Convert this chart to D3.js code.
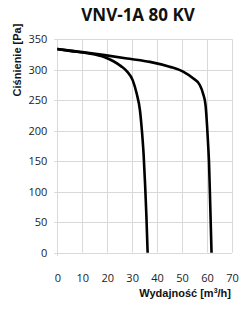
<!DOCTYPE html>
<html><head><meta charset="utf-8">
<script src="https://cdn.jsdelivr.net/npm/d3@7"></script>
<style>body{margin:0;background:#fff}svg{display:block}</style>
</head><body>
<script>
const title = "VNV-1A 80 KV";
const xLabel = "Wydajność [m";
const yLabel = "Ciśnienie [Pa]";
const xTicks = [0,10,20,30,40,50,60,70];
const yTicks = [0,50,100,150,200,250,300,350];
const innerX = [0, 5, 12.4, 19, 22.5, 25.5, 28, 30.2, 31.8, 33.1, 33.9, 34.6, 35.2, 35.7, 36.2];
const innerY = [334, 331, 327, 320.5, 314, 306, 297, 283, 261, 234, 200, 160, 110, 60, 0];
const outerX = [0, 10, 19, 29, 37.1, 45, 50.4, 54.4, 57.1, 58.4, 59.4, 60, 60.4, 60.8, 61.3, 61.8];
const outerY = [334, 329, 324, 318, 313, 305, 297, 286, 275, 261, 242, 209, 180, 147, 75, 0];

const W = 250, H = 313;
const svg = d3.select("body").append("svg").attr("width", W).attr("height", H);
const x = d3.scaleLinear().domain([0,70]).range([57.3, 232]);
const y = d3.scaleLinear().domain([0,350]).range([252.7, 39.3]);

const grid = svg.append("g").attr("stroke", "#d9d9d9").attr("stroke-width", 1);
xTicks.forEach(t => grid.append("line").attr("x1", Math.round(x(t))+0.5).attr("x2", Math.round(x(t))+0.5).attr("y1", y(350)).attr("y2", y(0)+ (t===0?3.5:0)));
yTicks.forEach(t => grid.append("line").attr("y1", Math.round(y(t))+0.5).attr("y2", Math.round(y(t))+0.5).attr("x1", x(0)-3).attr("x2", x(70)));

const ax = svg.append("g").attr("transform", `translate(0,${y(0)+21})`)
  .call(d3.axisBottom(x).tickValues(xTicks).tickSize(0).tickPadding(0));
ax.select(".domain").remove();
ax.selectAll("text").attr("font-family", "Open Sans").attr("font-size", 11).attr("fill", "#222");
const ay = svg.append("g").attr("transform", `translate(${x(0)-10},0)`)
  .call(d3.axisLeft(y).tickValues(yTicks).tickSize(0).tickPadding(0));
ay.select(".domain").remove();
ay.selectAll("text").attr("font-family", "Open Sans").attr("font-size", 11).attr("fill", "#222");

const line = d3.line().x(d => x(d[0])).y(d => y(d[1])).curve(d3.curveMonotoneX);
svg.append("path").datum(d3.zip(innerX, innerY)).attr("d", line)
  .attr("fill", "none").attr("stroke", "#000").attr("stroke-width", 2.6);
svg.append("path").datum(d3.zip(outerX, outerY)).attr("d", line)
  .attr("fill", "none").attr("stroke", "#000").attr("stroke-width", 2.6);

svg.append("text").attr("x", 138).attr("y", 21).attr("text-anchor", "middle")
  .attr("font-family", "Open Sans").attr("font-weight", "bold").attr("font-size", 17).attr("fill", "#111").text(title);

svg.append("text").attr("transform", "translate(21,60) rotate(-90)").attr("text-anchor", "middle")
  .attr("font-family", "Liberation Sans").attr("font-weight", "bold").attr("font-size", 11).attr("fill", "#111").text(yLabel);

const xl = svg.append("text").attr("x", 231).attr("y", 297).attr("text-anchor", "end")
  .attr("font-family", "Liberation Sans").attr("font-weight", "bold").attr("font-size", 11).attr("fill", "#111");
xl.append("tspan").text(xLabel);
xl.append("tspan").attr("dy", -4).attr("font-size", 7).text("3");
xl.append("tspan").attr("dy", 4).text("/h]");
</script>
</body></html>
